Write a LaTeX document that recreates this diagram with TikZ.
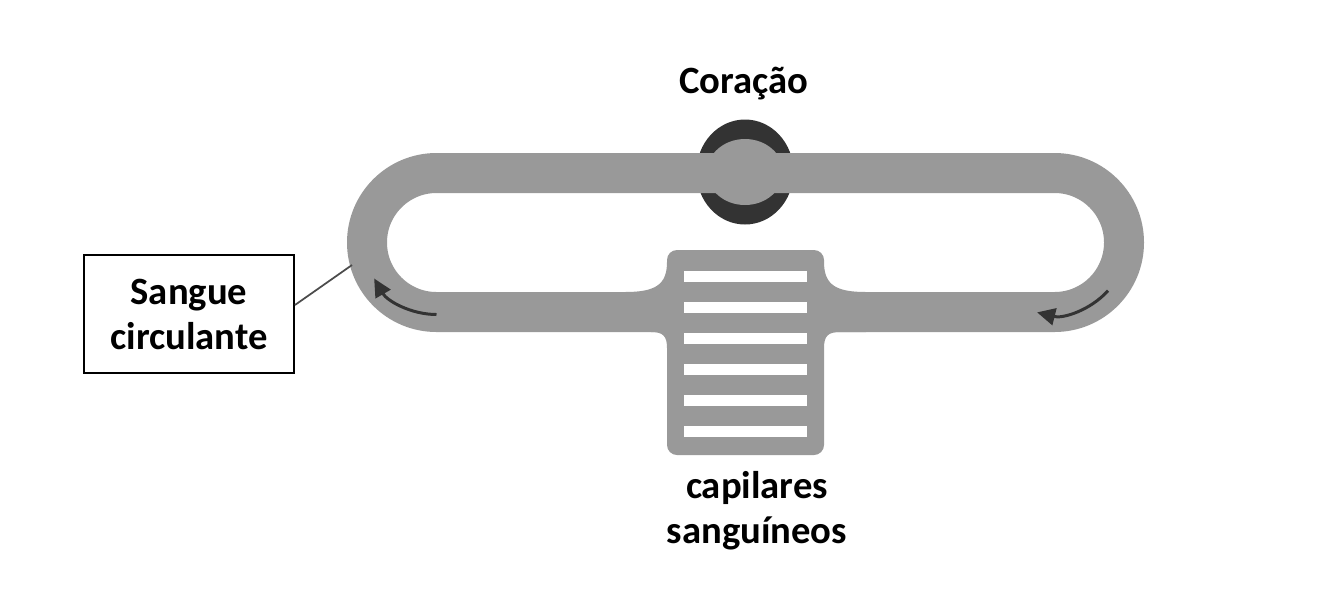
\documentclass[tikz,border=0pt]{standalone}
\usepackage{fontspec}
\setmainfont{Carlito}
\usetikzlibrary{arrows.meta}
\definecolor{vessel}{gray}{0.6}
\definecolor{heartdark}{gray}{0.2}
\definecolor{pointer}{gray}{0.3}
\begin{document}
\begin{tikzpicture}[x=0.02cm, y=-0.02cm,
  lbl/.style={font=\fontsize{22}{25.6}\selectfont\bfseries, align=center},
  flow/.style={heartdark, line width=1.7pt, -{Triangle[length=0.36cm,width=0.34cm]}}]
  \useasboundingbox (0,0) rectangle (1334,613);
  \fill[heartdark] (745,172) ellipse[x radius=48.5, y radius=52.5];
  \draw[vessel, line width=0.8cm, rounded corners=1.39cm] (367,173) rectangle (1124,312);
  \fill[vessel] (745,172) ellipse[x radius=38, y radius=33];
  \fill[vessel] (625,292) .. controls (655,292) and (667,285) .. (667,262)
    [rounded corners=0.2cm] -- (667,250) -- (824,250) [sharp corners] -- (824,262)
    .. controls (824,285) and (836,292) .. (866,292) -- (866,332) -- (840,332)
    .. controls (828,332) and (824,336) .. (824,348)
    [rounded corners=0.2cm] -- (824,455) -- (667,455) [sharp corners] -- (667,348)
    .. controls (667,336) and (663,332) .. (651,332) -- cycle;
  \foreach \k in {276,307,338,369,400,431}
    \fill[white] (684,\k-5.5) rectangle (807,\k+5.5);
  \draw[flow] (436.5,242.5) ++(90:72) arc[start angle=90, end angle=150, radius=72];
  \draw[flow] (1054.5,242.5) ++(42:72) arc[start angle=42, end angle=104, radius=72];
  \node[lbl, anchor=base] (coracao) at (744,93) {Coração};
  \node[lbl, anchor=base] (capilares) at (757,543) {capilares\\sanguíneos};
  \node[lbl, draw, line width=1.1pt, minimum width=4.2cm, minimum height=2.36cm, inner sep=0pt] (sangue) at (189,314) {Sangue\\circulante};
  \coordinate (parede) at (352,265);
  \draw[pointer, line width=1pt] ([yshift=0.18cm]sangue.east) -- (parede);
\end{tikzpicture}
\end{document}
